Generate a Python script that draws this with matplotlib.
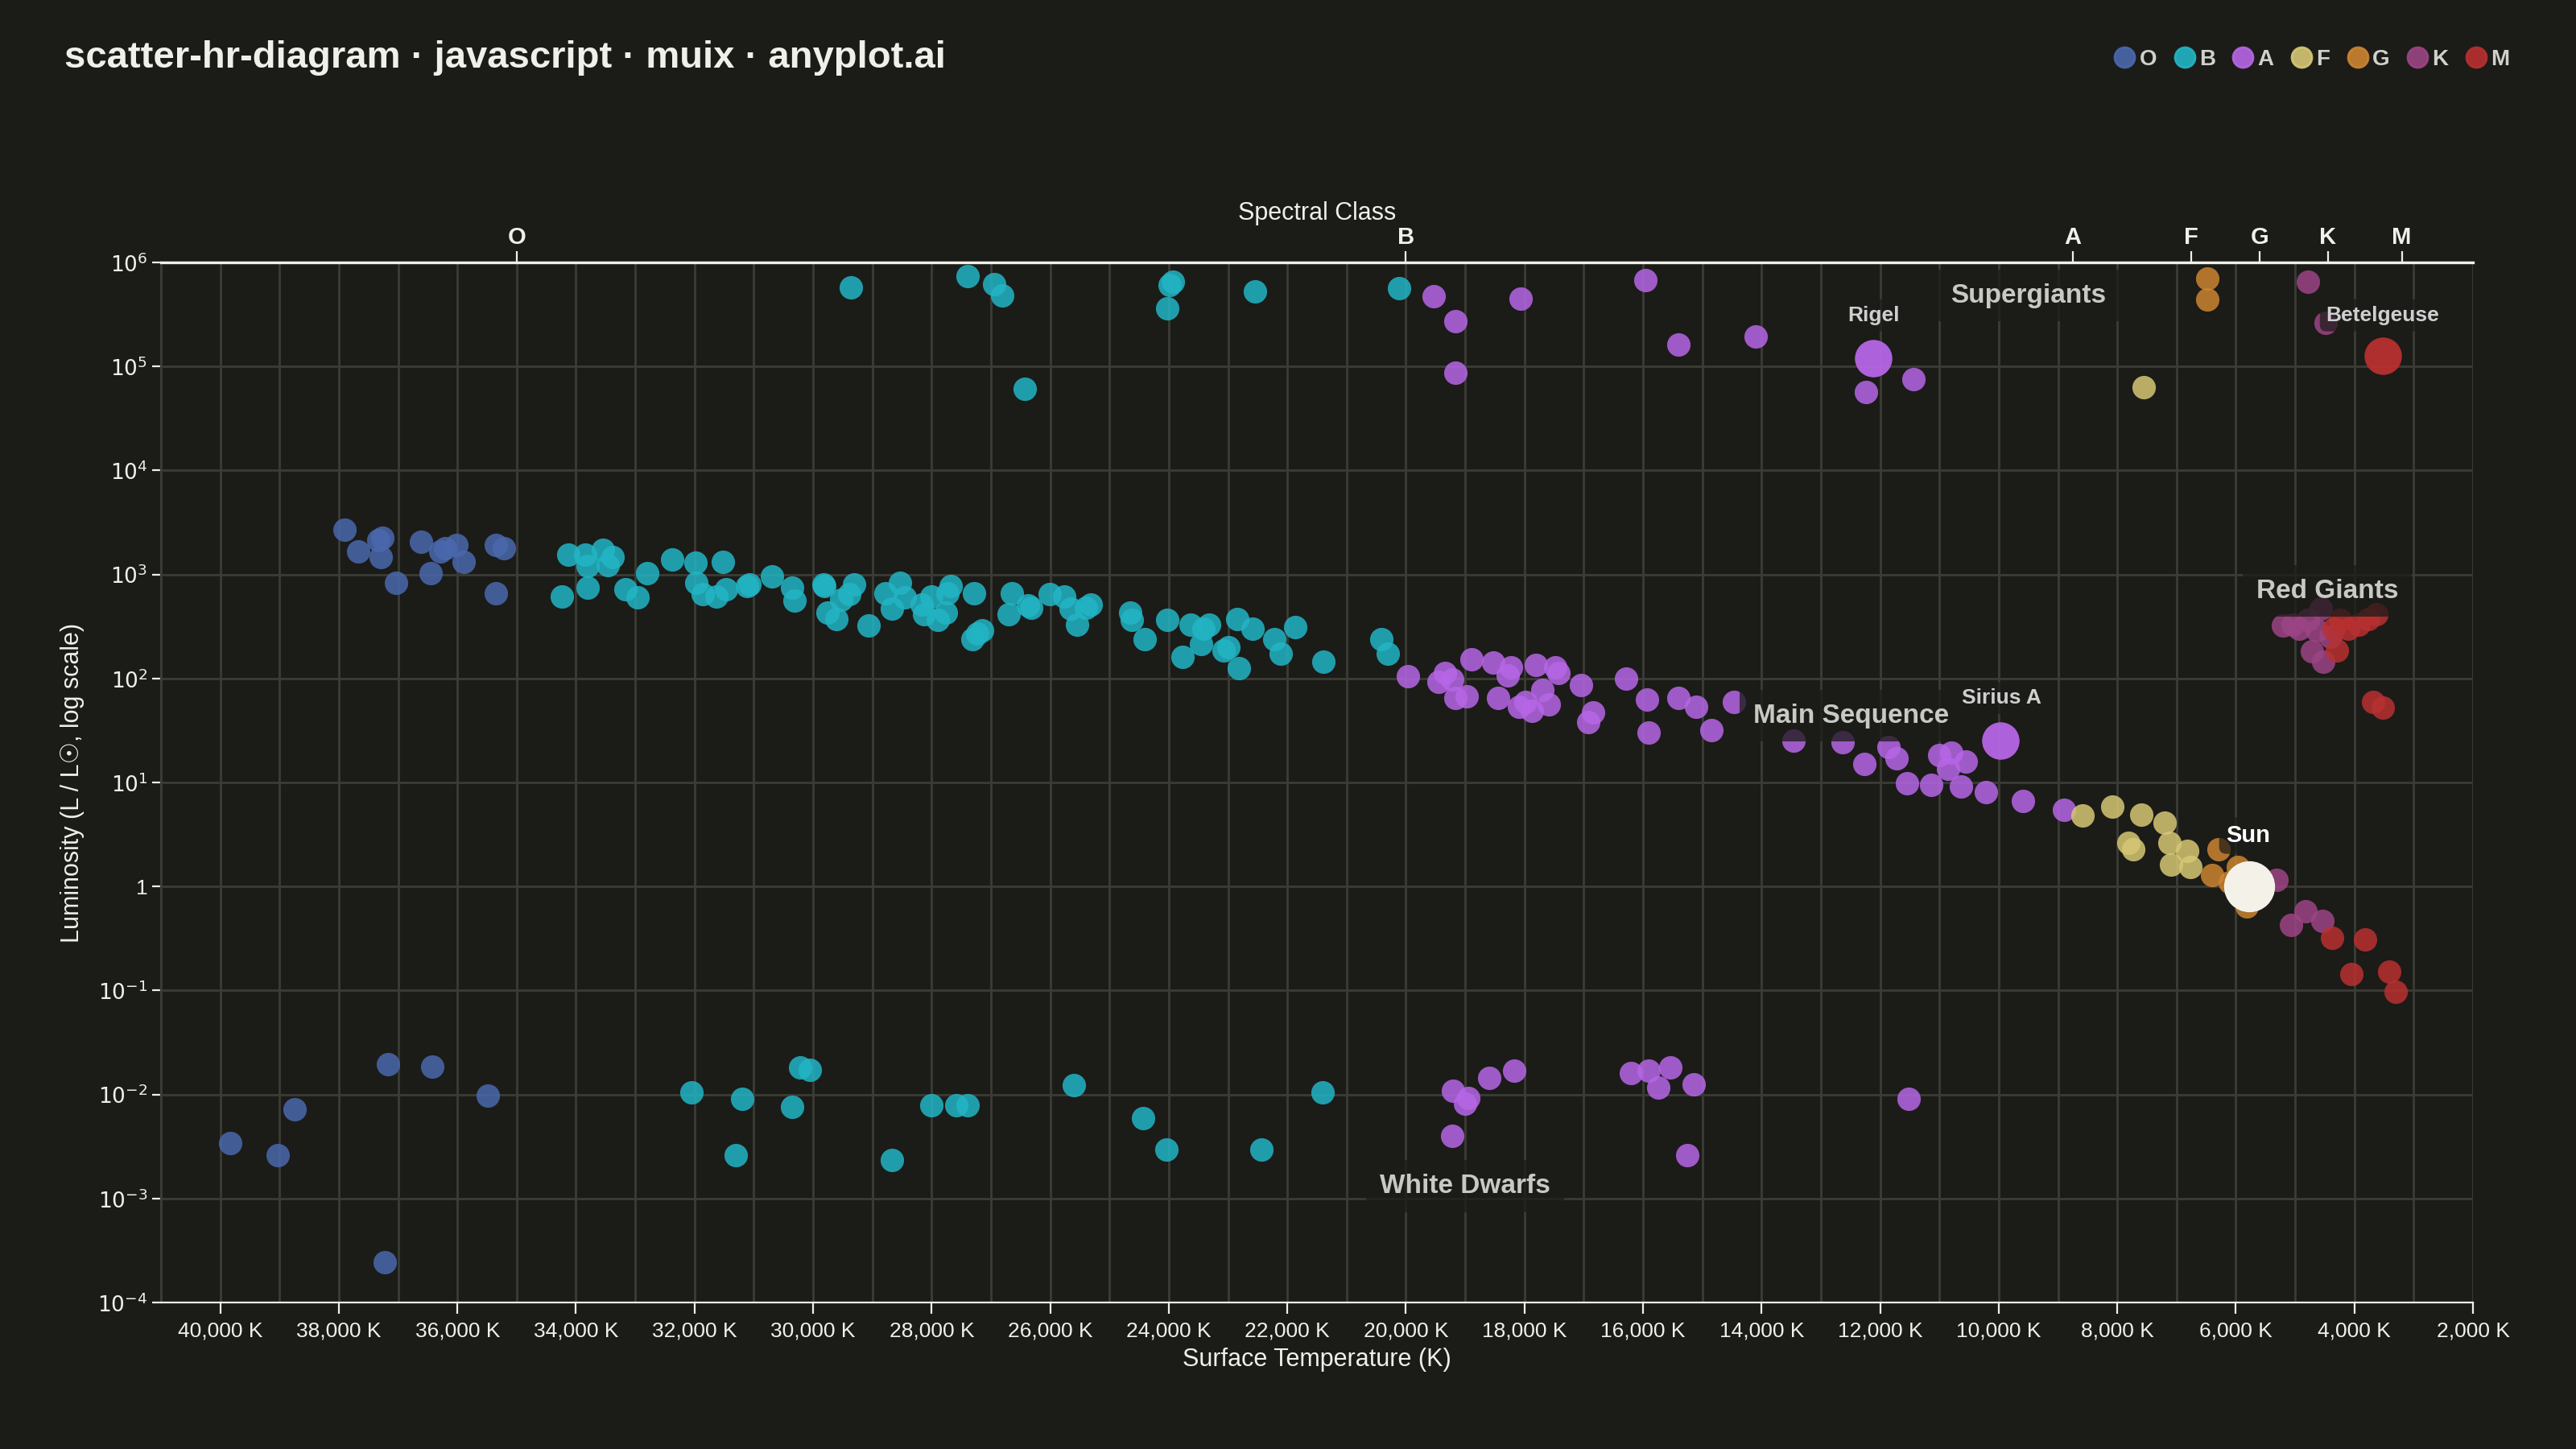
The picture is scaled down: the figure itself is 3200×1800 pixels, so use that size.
import numpy as np
import matplotlib
matplotlib.use("Agg")
import matplotlib.pyplot as plt
from matplotlib.ticker import FixedLocator, MultipleLocator, FuncFormatter

plt.rcParams['font.family'] = ['Liberation Sans', 'DejaVu Sans']

BG = '#1b1b18'
FG = '#f0f0ea'
GRID = '#3c3c37'

# (temperature K, log10 luminosity) per spectral class
stars_O = [
    (37900, 3.43), (37670, 3.22), (37340, 3.33), (37290, 3.17), (37260, 3.35), (37040, 2.92),
    (36620, 3.31), (36450, 3.01), (36290, 3.22), (36200, 3.25), (36010, 3.28), (35900, 3.12),
    (35350, 3.28), (35210, 3.25), (35350, 2.82),
    (39830, -2.47), (39030, -2.58), (38750, -2.14), (37170, -1.71), (36430, -1.73),
    (35490, -2.01), (37230, -3.61),
]
stars_B = [
    (29360, 5.76), (27400, 5.87), (26950, 5.79), (26810, 5.68), (26430, 4.78), (24020, 5.56),
    (23990, 5.78), (23930, 5.81), (22550, 5.72), (20110, 5.75),
    (34240, 2.79), (34130, 3.19), (33850, 3.19), (33800, 3.08), (33800, 2.87), (33550, 3.24),
    (33460, 3.09), (33380, 3.17), (33160, 2.86), (32960, 2.78), (32800, 3.01), (32380, 3.14),
    (31990, 3.11), (31970, 2.92), (31860, 2.81), (31630, 2.79), (31520, 3.12), (31470, 2.86),
    (31110, 2.89), (31080, 2.90), (30690, 2.98), (30360, 2.87), (30310, 2.75), (29830, 2.90),
    (29810, 2.89), (29750, 2.63), (29610, 2.57), (29530, 2.76), (29390, 2.81), (29310, 2.90),
    (29060, 2.51), (28780, 2.82), (28670, 2.67), (28530, 2.92), (28450, 2.78), (28170, 2.71),
    (28120, 2.62), (28010, 2.79), (27900, 2.56), (27760, 2.63), (27730, 2.82), (27680, 2.89),
    (27290, 2.82), (27310, 2.38), (27230, 2.43), (27150, 2.46), (26700, 2.62), (26650, 2.82),
    (26370, 2.70), (26320, 2.68), (26010, 2.81), (25760, 2.79), (25650, 2.67), (25540, 2.52),
    (25400, 2.68), (25320, 2.71), (24650, 2.63), (24630, 2.56), (24400, 2.38), (24020, 2.56),
    (23770, 2.21), (23630, 2.52), (23460, 2.33), (23410, 2.48), (23320, 2.52), (23070, 2.27),
    (22990, 2.30), (22850, 2.57), (22820, 2.10), (22580, 2.48), (22220, 2.38), (22110, 2.24),
    (21860, 2.49), (21390, 2.16), (20420, 2.38), (20310, 2.24),
    (32050, -1.98), (31300, -2.58), (31190, -2.04), (30360, -2.12), (30220, -1.74),
    (30060, -1.76), (28670, -2.63), (28010, -2.10), (27590, -2.10), (27400, -2.10),
    (25600, -1.91), (24430, -2.23), (24040, -2.53), (22440, -2.53), (21410, -1.98),
]
stars_A = [
    (19530, 5.67), (19170, 5.43), (19170, 4.94), (18060, 5.65), (15960, 5.83), (15400, 5.21),
    (14100, 5.29), (12240, 4.75), (11440, 4.88),
    (19970, 2.02), (19450, 1.97), (19340, 2.05), (19220, 1.99), (19170, 1.81), (18980, 1.83),
    (18890, 2.18), (18530, 2.15), (18450, 1.81), (18280, 2.03), (18230, 2.11), (18090, 1.73),
    (17980, 1.77), (17870, 1.69), (17810, 2.13), (17700, 1.89), (17590, 1.75), (17480, 2.11),
    (17420, 2.05), (17040, 1.94), (16930, 1.58), (16840, 1.67), (16290, 2.00), (15930, 1.80),
    (15900, 1.48), (15400, 1.81), (15100, 1.73), (14850, 1.50), (14460, 1.77), (13460, 1.40),
    (12630, 1.39), (12270, 1.18), (11860, 1.34), (11720, 1.23), (11550, 0.99), (11140, 0.98),
    (11000, 1.26), (10860, 1.13), (10800, 1.29), (10640, 0.96), (10560, 1.20), (10220, 0.91),
    (9590, 0.82), (8900, 0.74),
    (19220, -2.40), (19200, -1.96), (19000, -2.09), (18950, -2.03), (18590, -1.84),
    (18170, -1.77), (16210, -1.79), (15900, -1.77), (15740, -1.93), (15540, -1.74),
    (15260, -2.58), (15150, -1.90), (11520, -2.04),
]
stars_F = [
    (7560, 4.80), (8590, 0.68), (8090, 0.77), (7810, 0.42), (7730, 0.36), (7590, 0.69),
    (7200, 0.61), (7120, 0.42), (7090, 0.21), (6820, 0.34), (6760, 0.19),
]
stars_G = [
    (6480, 5.84), (6480, 5.64), (6400, 0.11), (6290, 0.36), (5960, 0.19), (5820, -0.19),
    (6100, 0.04),
]
stars_K = [
    (4790, 5.81), (4490, 5.42),
    (5210, 2.51), (5040, 2.52), (4930, 2.48), (4790, 2.56), (4710, 2.26), (4630, 2.46),
    (4570, 2.67), (4520, 2.16), (4410, 2.40),
    (5320, 0.06), (5070, -0.37), (4820, -0.24), (4540, -0.33),
]
stars_M = [
    (4350, 2.48), (4240, 2.56), (4100, 2.48), (3930, 2.52), (3770, 2.57), (3630, 2.62),
    (4290, 2.27), (3690, 1.77), (3520, 1.72),
    (4380, -0.49), (4050, -0.84), (3820, -0.51), (3410, -0.82), (3300, -1.01),
]

classes = ['O', 'B', 'A', 'F', 'G', 'K', 'M']
class_stars = [stars_O, stars_B, stars_A, stars_F, stars_G, stars_K, stars_M]
class_colors = ['#4a68ad', '#22b5c5', '#b666e6', '#d6c874', '#cc8530', '#9c4585', '#b83030']

# named stars: name, temperature, log L, class index
named = [('Rigel', 12110, 5.08, 2), ('Sirius A', 9970, 1.40, 2),
         ('Betelgeuse', 3520, 5.10, 6), ('Sun', 5778, 0.0, None)]

regions = [('Supergiants', 9500, 5.68), ('Main Sequence', 12490, 1.64),
           ('Red Giants', 4460, 2.84), ('White Dwarfs', 19000, -2.88)]

class_centers = [35000, 20000, 8750, 6750, 5600, 4450, 3200]

fig = plt.figure(figsize=(16, 9), dpi=200, facecolor=BG)
ax = fig.add_axes([0.0625, 0.101, 0.8975, 0.718], facecolor=BG)

for cls, pts, col in zip(classes, class_stars, class_colors):
    arr = np.array(pts)
    ax.scatter(arr[:, 0], 10 ** arr[:, 1], s=110, color=col, alpha=0.85, linewidths=0, zorder=3)

for name, t, l, ci in named:
    if ci is None:
        ax.scatter(t, 10 ** l, s=520, color='#f4f2e8', linewidths=0, zorder=5)
    else:
        ax.scatter(t, 10 ** l, s=280, color=class_colors[ci], linewidths=0, zorder=5, alpha=0.95)

# star labels
label_box = dict(boxstyle='round,pad=0.3', fc=BG, ec='none', alpha=0.7)
ax.text(12110, 10 ** 5.49, 'Rigel', color='#cfcfcf', fontsize=9.5, fontweight='bold',
        ha='center', va='center', zorder=6, bbox=label_box)
ax.text(9950, 10 ** 1.81, 'Sirius A', color='#cfcfcf', fontsize=9.5, fontweight='bold',
        ha='center', va='center', zorder=6, bbox=label_box)
ax.text(3520, 10 ** 5.49, 'Betelgeuse', color='#cfcfcf', fontsize=9.5, fontweight='bold',
        ha='center', va='center', zorder=6, bbox=label_box)
ax.text(5790, 10 ** 0.49, 'Sun', color='#ffffff', fontsize=10.5, fontweight='bold',
        ha='center', va='center', zorder=6, bbox=label_box)

for label, t, l in regions:
    ax.text(t, 10 ** l, label, color='#c8c8c4', fontsize=12, fontweight='bold',
            ha='center', va='center', zorder=6,
            bbox=dict(boxstyle='square,pad=0.5', fc=BG, ec='none', alpha=0.75))

ax.set_xlim(41000, 2000)
ax.set_yscale('log')
ax.set_ylim(1e-4, 1e6)

ax.xaxis.set_major_locator(MultipleLocator(2000))
ax.xaxis.set_minor_locator(MultipleLocator(1000))
ax.xaxis.set_major_formatter(FuncFormatter(lambda v, p: f'{int(v):,} K'))
ax.yaxis.set_major_locator(FixedLocator([10.0 ** k for k in range(-4, 7)]))
ax.yaxis.set_minor_locator(FixedLocator([]))


def yfmt(v, p):
    k = int(round(np.log10(v)))
    if k == 0:
        return '1'
    return r'$10^{%d}$' % k


ax.yaxis.set_major_formatter(FuncFormatter(yfmt))

ax.grid(True, which='major', axis='y', color=GRID, lw=1)
ax.grid(True, which='both', axis='x', color=GRID, lw=1)
ax.set_axisbelow(True)

ax.spines['right'].set_visible(False)
ax.spines['top'].set_color(FG)
ax.spines['top'].set_linewidth(1.2)
ax.spines['bottom'].set_color(FG)
ax.spines['left'].set_color(GRID)
ax.tick_params(axis='both', colors=FG, labelsize=9.5, length=5)
ax.tick_params(axis='x', which='minor', length=0)
ax.tick_params(axis='y', length=4, pad=2)

ax.set_xlabel('Surface Temperature (K)', color=FG, fontsize=11, labelpad=3)
ax.set_ylabel('Luminosity (L / L☉, log scale)', color=FG, fontsize=11, labelpad=6)

top = ax.secondary_xaxis('top')
top.set_xticks(class_centers)
top.set_xticklabels(classes, fontweight='bold')
top.tick_params(colors=FG, labelsize=10.5, length=5, pad=1)
top.set_xlabel('Spectral Class', color=FG, fontsize=11, labelpad=3)
top.spines['top'].set_color(FG)

fig.text(0.025, 0.96, 'scatter-hr-diagram · javascript · muix · anyplot.ai', color=FG,
         fontsize=17, fontweight='bold', ha='left', va='center')

handles = [plt.Line2D([], [], marker='o', ls='', color=c, markersize=9, alpha=0.9)
           for c in class_colors]
leg = fig.legend(handles, classes, loc='center right', bbox_to_anchor=(0.982, 0.959), ncol=7,
                 frameon=False, handletextpad=-0.1, columnspacing=0.5, handlelength=1.5,
                 fontsize=10)
for t in leg.get_texts():
    t.set_color('#d0d0cc')
    t.set_fontweight('bold')

fig.savefig('out.png', dpi=200, facecolor=BG)
